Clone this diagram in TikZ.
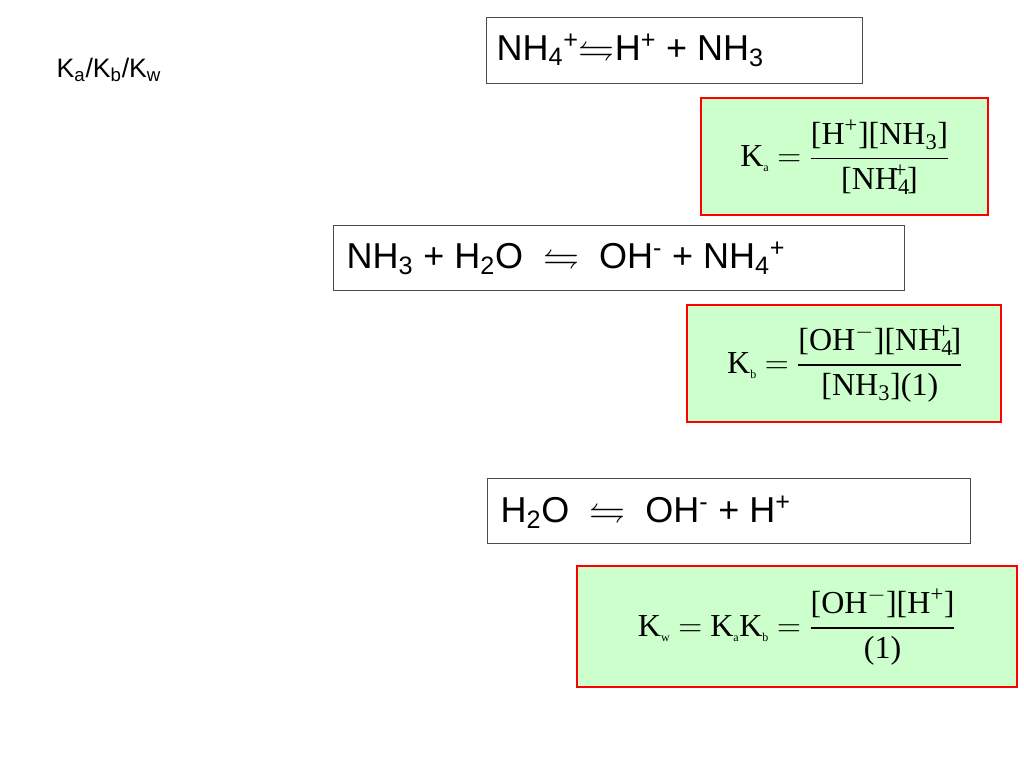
\documentclass[tikz,border=0pt]{standalone}
\usepackage{amsmath,amssymb}
\usepackage{fontspec}
\setmainfont{Liberation Sans}
\newfontfamily\seriff{Liberation Serif}
\newcommand{\sfx}[1]{\textsubscript{\small #1}}
\begin{document}
\begin{tikzpicture}[x=0.75pt,y=-0.75pt,
 eqbox/.style={draw=black!70,line width=0.6pt,inner sep=0pt},
 kbox/.style={draw=red,fill=green!20,line width=2pt,inner sep=0pt},
 eqtxt/.style={font=\fontsize{27}{30}\selectfont,anchor=west},
 ktxt/.style={font=\fontsize{24}{26}\seriff,anchor=center}]
\useasboundingbox (0,0) rectangle (1024,768);
\node[anchor=west,font=\fontsize{20}{22}\selectfont] (t) at (52,70) {K\textsubscript{a}/K\textsubscript{b}/K\textsubscript{w}};

\draw[eqbox] (486,17) rectangle (862,83);
\node[eqtxt] (e1) at (492,50) {NH\textsubscript{4}\textsuperscript{+}$\leftrightharpoons$H\textsuperscript{+} + NH\textsubscript{3}};

\draw[kbox] (701,98) rectangle (988,215);
\node[ktxt] (k1) at (845,157) {K\sfx{a} $=$ $\dfrac{\text{\seriff [H\textsuperscript{+}][NH\textsubscript{3}]}}{\text{\seriff [NH\textsubscript{4}\kern-0.5em\textsuperscript{+}]}}$};

\draw[eqbox] (333,225) rectangle (904,290);
\node[eqtxt] (e2) at (342,258) {NH\textsubscript{3} + H\textsubscript{2}O \ $\leftrightharpoons$ \ OH\textsuperscript{-} + NH\textsubscript{4}\textsuperscript{+}};

\draw[kbox] (687,305) rectangle (1001,422);
\node[ktxt] (k2) at (845,364) {K\sfx{b} $=$ $\dfrac{\text{\seriff [OH\textsuperscript{$-$}][NH\textsubscript{4}\kern-0.5em\textsuperscript{+}]}}{\text{\seriff [NH\textsubscript{3}](1)}}$};

\draw[eqbox] (487,478) rectangle (970,543);
\node[eqtxt] (e3) at (496,512) {H\textsubscript{2}O \ $\leftrightharpoons$ \ OH\textsuperscript{-} + H\textsuperscript{+}};

\draw[kbox] (577,566) rectangle (1017,687);
\node[ktxt] (k3) at (797,627) {K\sfx{w} $=$ K\sfx{a}K\sfx{b} $=$ $\dfrac{\text{\seriff [OH\textsuperscript{$-$}][H\textsuperscript{+}]}}{\text{\seriff (1)}}$};
\end{tikzpicture}
\end{document}
